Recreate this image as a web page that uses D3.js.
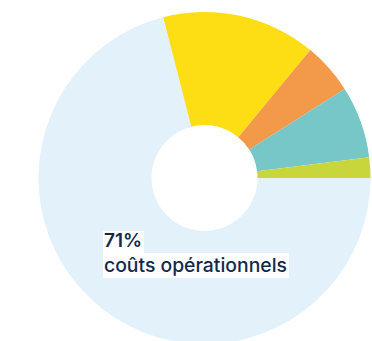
<!DOCTYPE html>
<html>
<head>
<meta charset="utf-8">
<script src="https://cdn.jsdelivr.net/npm/d3@7"></script>
<style>
  html, body { margin: 0; padding: 0; background: #ffffff; }
  svg { display: block; }
</style>
</head>
<body>
<svg id="chart" width="372" height="341"></svg>
<script>
// Cost breakdown, in percent
const categories = ["coûts opérationnels", "catégorie 2", "catégorie 3", "catégorie 4", "catégorie 5"];
const shares = [71, 15, 5, 7, 2];
const colors = ["#e3f2fa", "#fddd14", "#f2994a", "#77c7c8", "#c8d63c"];
const labelLines = ["71%", "coûts opérationnels"];

const svg = d3.select("#chart");
const cx = 204.5, cy = 178, outerR = 166, innerR = 53;

const pie = d3.pie()
  .sort(null)
  .value(d => d.value)
  .startAngle(Math.PI / 2)
  .endAngle(Math.PI / 2 + 2 * Math.PI);

const arc = d3.arc().innerRadius(innerR).outerRadius(outerR);

const data = categories.map((c, i) => ({ name: c, value: shares[i], color: colors[i] }));

const g = svg.append("g").attr("transform", `translate(${cx},${cy})`);
g.selectAll("path")
  .data(pie(data))
  .join("path")
  .attr("d", arc)
  .attr("fill", d => d.data.color);

// Highlighted label for the largest slice; each line is sized to its target width
const label = svg.append("g").attr("transform", "translate(104,0)");
const lineSpecs = [
  { text: labelLines[0], y: 247, width: 38, weight: 600, boxTop: 231, boxH: 22 },
  { text: labelLines[1], y: 272, width: 183, weight: 500, boxTop: 253, boxH: 25 }
];
lineSpecs.forEach(s => {
  const bg = label.append("rect").attr("fill", "#ffffff");
  const t = label.append("text")
    .attr("x", 0)
    .attr("y", s.y)
    .attr("fill", "#13294b")
    .style("font-family", "Inter, 'Noto Sans', sans-serif")
    .style("font-size", "18px")
    .style("font-weight", s.weight)
    .text(s.text);
  const w0 = t.node().getComputedTextLength();
  const size = Math.min(21, 18 * s.width / w0);
  t.style("font-size", size + "px");
  const w = t.node().getComputedTextLength();
  bg.attr("x", -1).attr("width", w + 3)
    .attr("y", s.boxTop).attr("height", s.boxH);
});
</script>
</body>
</html>
